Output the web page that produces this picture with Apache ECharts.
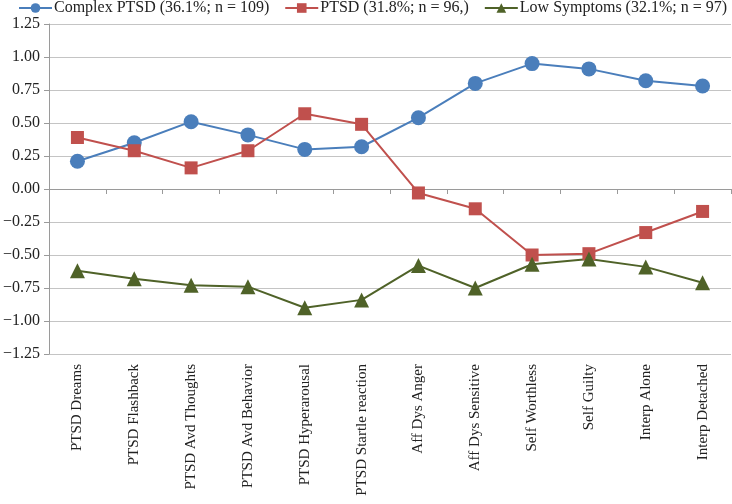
<!DOCTYPE html>
<html>
<head>
<meta charset="utf-8">
<script src="https://cdn.jsdelivr.net/npm/echarts@6/dist/echarts.min.js"></script>
<style>
  html,body{margin:0;padding:0;background:#fff;}
  #main{width:732px;height:504px;}
</style>
</head>
<body>
<div id="main"></div>
<script>
// 类别
var categories = ['PTSD Dreams','PTSD Flashback','PTSD Avd Thoughts','PTSD Avd Behavior','PTSD Hyperarousal','PTSD Startle reaction',
    'Aff Dys Anger','Aff Dys Sensitive','Self Worthless','Self Guilty','Interp Alone','Interp Detached'];
// 各组数值
var complexPtsd = [0.21, 0.35, 0.51, 0.41, 0.30, 0.32, 0.54, 0.80, 0.95, 0.91, 0.82, 0.78];
var ptsd = [0.39, 0.29, 0.16, 0.29, 0.57, 0.49, -0.03, -0.15, -0.50, -0.49, -0.33, -0.17];
var lowSymptoms = [-0.62, -0.68, -0.73, -0.74, -0.90, -0.84, -0.58, -0.75, -0.57, -0.53, -0.59, -0.71];
var seriesNames = ['Complex PTSD (36.1%; n = 109)','PTSD (31.8%; n = 96,)','Low Symptoms (32.1%; n = 97)'];

var font = '"Liberation Serif", "Times New Roman", serif';
var myChart = echarts.init(document.getElementById('main'));

function line(name, data, color, symbol, size){
    return {
        name: name,
        type: 'line',
        data: data,
        symbol: symbol,
        symbolSize: size,
        animation: false,
        lineStyle: {color: color, width: 2},
        itemStyle: {color: color}
    };
}

option = {
    textStyle: {fontFamily: font},
    legend: {
        top: 0,
        left: 18,
        width: 900,
        padding: [0, 0, 0, 0],
        itemWidth: 33,
        itemHeight: 12,
        itemGap: 15,
        textStyle: {fontFamily: font, fontSize: 16, color: '#222', padding: [0, 0, 0, -3]},
        data: seriesNames
    },
    grid: {
        left: 45,
        right: 1,
        top: 24,
        bottom: 150
    },
    xAxis: {
        type: 'category',
        data: categories,
        boundaryGap: true,
        axisLine: {lineStyle: {color: '#9a9a9a', width: 1}},
        axisTick: {show: true, length: 5, lineStyle: {color: '#9a9a9a'}},
        axisLabel: {
            rotate: 90,
            fontFamily: font,
            fontSize: 15,
            color: '#222',
            margin: 10
        }
    },
    yAxis: {
        type: 'value',
        min: -1.25,
        max: 1.25,
        interval: 0.25,
        axisLine: {show: true, lineStyle: {color: '#9a9a9a'}},
        axisTick: {show: true, length: 5, lineStyle: {color: '#9a9a9a'}},
        splitLine: {lineStyle: {color: '#c4c4c4', width: 1}},
        axisLabel: {
            fontFamily: font,
            fontSize: 16,
            color: '#222',
            margin: 9,
            formatter: function(value){
                return value.toFixed(2).replace('-', '\u2212');
            }
        }
    },
    series: [
        line(seriesNames[0], complexPtsd, '#4a7ebb', 'circle', 15),
        line(seriesNames[1], ptsd, '#c0504d', 'rect', 13),
        line(seriesNames[2], lowSymptoms, '#4f6228', 'triangle', 15)
    ]
};
myChart.setOption(option);
</script>
</body>
</html>
